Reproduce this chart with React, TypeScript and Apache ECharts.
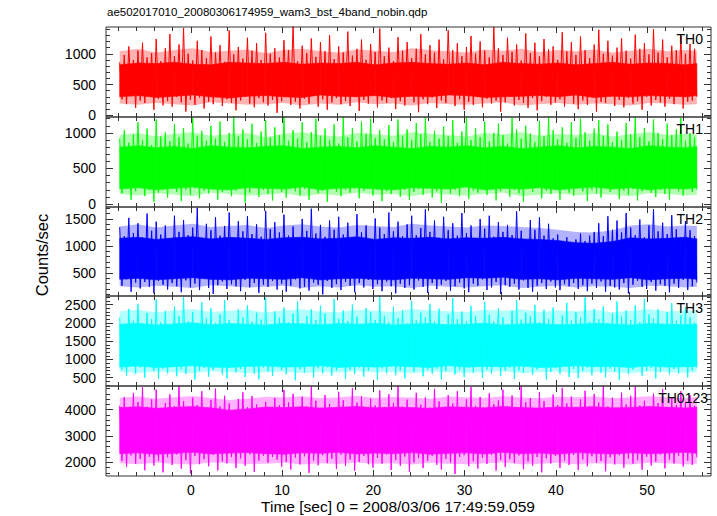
import React, { useEffect, useRef } from "react";
import * as echarts from "echarts";

const TITLE = "ae502017010_20080306174959_wam3_bst_4band_nobin.qdp";
const X_NAME = "Time [sec] 0 = 2008/03/06 17:49:59.059";
const Y_NAME = "Counts/sec";
const BAND_NAMES = ["TH0", "TH1", "TH2", "TH3", "TH0123"];
const COLORS = ["#ff0000", "#00ff00", "#0000ff", "#00ffff", "#ff00ff"];

const T_START = -7.8;
const BIN_SEC = 0.25;
const ENV_STEP_SEC = 2;
const X_RANGE = [-9.3, 57.0];
const X_MAJOR = [0, 10, 20, 30, 40, 50];
const X_MINOR = [-8, -6, -4, -2, 2, 4, 6, 8, 12, 14, 16, 18, 22, 24, 26, 28, 32, 34, 36, 38, 42, 44, 46, 48, 52, 54, 56];

const Y_RANGES = [[-28, 1435], [-42, 1224], [70, 1722], [274, 2734], [1480, 4900]];
const Y_MAJOR = [[0, 500, 1000], [0, 500, 1000], [500, 1000, 1500], [500, 1000, 1500, 2000, 2500], [2000, 3000, 4000]];
const Y_MINOR_STEP = [100, 100, 100, 100, 200];

// light-curve samples (alternating local highs / lows, counts/sec)
const TH0 = [
  860, 260, 980, 180, 1120, 310, 900, 120, 1050, 240,
  1180, 200, 940, 330, 1010, 90, 1240, 270, 880, 160,
  1090, 230, 1320, 140, 960, 300, 1150, 210, 1420, 60,
  1000, 250, 890, 170, 1210, 290, 1060, 110, 930, 220,
  1280, 180, 1020, 340, 1140, 150, 870, 260, 1380, 200,
  990, 80, 1110, 240, 920, 310, 1260, 190, 1050, 130,
  1170, 280, 900, 210, 1340, 160, 1000, 250, 1090, 40,
  940, 230, 1220, 300, 1060, 170, 1470, 220, 880, 110,
  1130, 270, 1010, 190, 1250, 320, 950, 140, 1190, 260,
  1040, 90, 1300, 210, 910, 280, 1120, 180, 1020, 230,
  1360, 150, 970, 300, 1080, 70, 1230, 250, 900, 190,
  1160, 320, 1030, 130, 1410, 240, 960, 200, 1100, 280,
  880, 100, 1270, 230, 1050, 160, 1190, 310, 930, 210,
  1080, 50, 1320, 260, 990, 180, 1140, 290, 1020, 120,
  1230, 240, 910, 200, 1380, 330, 1060, 150, 1170, 260,
  960, 90, 1110, 220, 1290, 170, 1000, 300, 1200, 130,
  1050, 270, 940, 190, 1440, 240, 1090, 60, 980, 210,
  1260, 310, 1030, 160, 1150, 250, 890, 200, 1330, 120,
  1010, 280, 1180, 80, 960, 230, 1240, 300, 1070, 170,
  1120, 210, 900, 260, 1350, 140, 1040, 320, 1190, 190,
  980, 100, 1280, 240, 1060, 170, 930, 290, 1150, 60,
  1390, 220, 1000, 200, 1210, 310, 970, 150, 1100, 250,
  1250, 130, 1050, 280, 920, 190, 1310, 230, 1080, 90,
  1170, 300, 990, 160, 1400, 250, 1020, 210, 1230, 140,
  940, 270, 1130, 180, 1060, 330, 1290, 110, 1000, 220,
  1160, 240, 1080, 300,
];

const TH1 = [
  920, 150, 1040, 210, 860, 60, 980, 180, 1150, 240,
  900, 110, 1060, 200, 830, 30, 1190, 160, 950, 230,
  1010, 90, 880, 250, 1120, 170, 940, 40, 1070, 200,
  850, 130, 1210, 220, 960, 80, 1030, 190, 890, 150,
  1100, 250, 920, 60, 1160, 170, 870, 210, 1000, 110,
  1230, 190, 950, 240, 1050, 20, 910, 160, 1130, 230,
  860, 100, 1020, 200, 1180, 140, 940, 50, 1080, 220,
  970, 170, 1240, 90, 890, 250, 1040, 180, 920, 120,
  1150, 210, 870, 60, 1010, 230, 1200, 150, 960, 190,
  1060, 30, 900, 240, 1120, 170, 850, 110, 1230, 200,
  940, 160, 1070, 220, 880, 80, 1160, 190, 990, 250,
  1200, 120, 930, 210, 1040, 40, 910, 180, 1110, 140,
  870, 230, 1190, 100, 960, 200, 1050, 60, 900, 170,
  1140, 210, 980, 130, 1220, 240, 870, 90, 1030, 180,
  920, 20, 1090, 220, 950, 150, 1180, 200, 860, 110,
  1020, 250, 1240, 70, 900, 190, 1070, 160, 940, 230,
  1160, 130, 880, 210, 1000, 50, 1130, 180, 970, 240,
  850, 100, 1210, 200, 1050, 150, 920, 30, 1100, 220,
  990, 170, 870, 240, 1170, 80, 950, 190, 1230, 140,
  1040, 210, 910, 60, 1080, 230, 860, 160, 1150, 120,
  930, 250, 1200, 180, 1010, 40, 890, 200, 1060, 150,
  1180, 90, 960, 220, 1120, 170, 870, 240, 1020, 70,
  900, 190, 1140, 130, 980, 210, 1230, 50, 940, 180,
  1070, 230, 880, 160, 1190, 100, 1000, 200, 910, 140,
  1130, 60, 970, 240, 1050, 180, 1210, 120, 890, 210,
  1000, 170, 940, 200,
];

const TH2 = [
  1350, 260, 1180, 380, 1520, 150, 1240, 320, 1420, 210,
  1160, 330, 1600, 240, 1280, 120, 1450, 350, 1210, 280,
  1380, 190, 1130, 310, 1560, 250, 1260, 140, 1480, 360,
  1200, 230, 1340, 300, 1710, 180, 1150, 390, 1410, 220,
  1290, 110, 1530, 270, 1190, 340, 1370, 200, 1620, 290,
  1140, 250, 1460, 160, 1270, 370, 1550, 230, 1220, 310,
  1400, 130, 1170, 280, 1650, 240, 1310, 350, 1440, 190,
  1250, 300, 1580, 150, 1190, 260, 1360, 380, 1120, 210,
  1500, 240, 1280, 170, 1690, 320, 1230, 280, 1390, 100,
  1170, 350, 1470, 220, 1300, 290, 1540, 180, 1210, 330,
  1430, 260, 1160, 140, 1590, 310, 1250, 230, 1380, 370,
  1130, 200, 1510, 290, 1340, 160, 1220, 340, 1620, 250,
  1270, 120, 1450, 300, 1180, 220, 1400, 270, 1560, 190,
  1200, 360, 1330, 240, 1680, 130, 1260, 310, 1470, 200,
  1150, 280, 1540, 350, 1290, 170, 1420, 250, 1190, 320,
  1610, 210, 1240, 140, 1380, 300, 1130, 260, 1500, 380,
  1320, 180, 1560, 230, 1170, 330, 1440, 110, 1260, 270,
  1390, 240, 1200, 300, 1640, 190, 1280, 360, 1110, 220,
  1480, 150, 1300, 260, 1530, 310, 1190, 200, 1410, 340,
  1140, 230, 1210, 180, 1080, 290, 1160, 250, 1050, 310,
  1120, 200, 1230, 270, 1090, 160, 1190, 300, 1260, 220,
  1420, 340, 1180, 150, 1550, 260, 1300, 230, 1470, 190,
  1250, 310, 1610, 120, 1340, 280, 1200, 350, 1490, 240,
  1160, 200, 1380, 330, 1680, 170, 1270, 290, 1430, 260,
  1220, 140, 1570, 300, 1310, 220, 1150, 370, 1460, 180,
  1290, 250, 1180, 320,
];

const TH3 = [
  2150, 720, 1980, 560, 2380, 840, 2060, 610, 2520, 780,
  1950, 500, 2270, 810, 2100, 680, 2640, 470, 2010, 750,
  2330, 620, 1920, 860, 2450, 540, 2180, 730, 2710, 600,
  2040, 820, 2290, 450, 1990, 690, 2560, 770, 2120, 530,
  2400, 710, 2000, 880, 2230, 590, 2620, 480, 2070, 800,
  1940, 650, 2360, 740, 2150, 520, 2480, 830, 2030, 610,
  2280, 460, 2090, 780, 2690, 670, 1970, 550, 2310, 850,
  2140, 700, 2420, 590, 2020, 810, 2250, 430, 2580, 730,
  1990, 640, 2190, 870, 2370, 510, 2080, 760, 2470, 620,
  2260, 790, 1930, 560, 2650, 690, 2110, 840, 2340, 470,
  2050, 720, 2500, 600, 2170, 780, 1960, 530, 2410, 690,
  2300, 860, 2080, 440, 2730, 750, 2190, 620, 2010, 810,
  2440, 570, 2130, 700, 2350, 480, 1980, 790, 2600, 660,
  2070, 830, 2280, 540, 2160, 720, 2520, 610, 2040, 750,
  2390, 460, 1950, 680, 2240, 850, 2680, 590, 2100, 710,
  2310, 520, 2050, 770, 2460, 640, 2180, 820, 1990, 500,
  2570, 730, 2220, 610, 2030, 860, 2400, 550, 2150, 690,
  1970, 780, 2330, 470, 2620, 700, 2090, 630, 2280, 840,
  2180, 580, 2490, 720, 2010, 810, 2360, 450, 2110, 660,
  2420, 760, 1960, 600, 2200, 830, 2550, 520, 2060, 740,
  2290, 490, 2140, 690, 2700, 780, 2030, 570, 2380, 820,
  2100, 630, 2450, 510, 1990, 750, 2260, 670, 2590, 440,
  2170, 800, 2340, 600, 2080, 720, 2480, 840, 2020, 560,
  2660, 690, 2230, 770, 2120, 480, 2370, 650, 1980, 810,
  2300, 590, 2540, 740, 2060, 620, 2210, 850, 2430, 510,
  2150, 700, 2010, 780,
];

const TH0123 = [
  4150, 2050, 4480, 1820, 4020, 2260, 4630, 1950, 4290, 2130,
  4850, 1700, 4110, 2210, 4390, 1880, 4760, 2050, 4000, 1620,
  4250, 2190, 4580, 1900, 4140, 2300, 4920, 1760, 4330, 2080,
  4050, 1580, 4460, 2240, 4180, 1930, 4700, 2120, 3980, 1850,
  4370, 2280, 4800, 1690, 4120, 2040, 4530, 1960, 4240, 2200,
  3950, 1780, 4410, 2150, 4660, 1870, 4090, 2310, 4520, 1640,
  4200, 2060, 3900, 2250, 4300, 1990, 4010, 2200, 4450, 2100,
  4170, 1840, 4750, 2020, 4280, 1730, 4600, 2180, 4060, 1920,
  4490, 2230, 4130, 1600, 4890, 2070, 4340, 1890, 4070, 2270,
  4560, 1970, 4220, 2140, 4010, 1750, 4680, 2290, 4360, 1860,
  4100, 2110, 4820, 1680, 4270, 2010, 4510, 2240, 3990, 1930,
  4420, 1800, 4160, 2170, 4730, 1950, 4040, 2300, 4590, 1710,
  4260, 2080, 4900, 1870, 4110, 2220, 4380, 1640, 4030, 2000,
  4640, 2160, 4190, 1780, 4470, 2060, 4080, 2250, 4790, 1910,
  4310, 1730, 4020, 2130, 4550, 1990, 4230, 1560, 4700, 2200,
  4090, 2270, 4400, 1850, 4860, 2040, 4150, 1760, 4480, 2180,
  4000, 1940, 4620, 2290, 4210, 1690, 4350, 2090, 4760, 1820,
  4130, 2120, 4540, 1980, 4070, 2260, 4910, 1740, 4280, 2030,
  4440, 1870, 4050, 2200, 4670, 1620, 4320, 2150, 4010, 1960,
  4580, 2240, 4180, 1790, 4830, 2070, 4240, 1900, 4500, 2280,
  4060, 1710, 4390, 2110, 4720, 1850, 4140, 2230, 4600, 1990,
  4270, 2050, 4940, 1660, 4120, 2190, 4460, 1920, 4030, 2270,
  4650, 1800, 4200, 2140, 4530, 1950, 4880, 2080, 4160, 1720,
  4340, 2210, 4080, 1880, 4610, 2020, 4250, 2300, 4790, 1770,
  4100, 2100, 4470, 1960, 4180, 2250, 4700, 1840, 4300, 2060,
  4560, 1900, 4150, 2190,
];

// dense core of each band (lower / upper edge every 2 s)
const TH0_CORE_LO = [300, 320, 290, 310, 330, 300, 280, 310, 320, 300, 290, 330, 310, 300, 320, 290, 310, 300, 330, 320, 290, 300, 310, 320, 300, 330, 290, 310, 300, 320, 310, 300, 320];
const TH0_CORE_HI = [820, 850, 840, 860, 830, 820, 860, 850, 840, 860, 830, 850, 840, 860, 820, 850, 860, 840, 830, 850, 820, 860, 840, 830, 850, 820, 840, 860, 830, 850, 840, 820, 840];
const TH1_CORE_LO = [210, 230, 200, 220, 240, 210, 200, 230, 220, 210, 240, 200, 220, 230, 210, 200, 230, 220, 210, 240, 200, 220, 210, 230, 200, 220, 240, 210, 230, 200, 220, 210, 230];
const TH1_CORE_HI = [800, 820, 790, 810, 780, 820, 800, 790, 810, 820, 780, 800, 810, 790, 820, 800, 780, 810, 800, 820, 790, 810, 780, 800, 820, 790, 810, 800, 780, 820, 800, 790, 810];
const TH2_CORE_LO = [380, 400, 370, 390, 410, 380, 370, 400, 390, 380, 410, 370, 390, 400, 380, 370, 400, 390, 380, 410, 400, 420, 380, 390, 370, 400, 390, 380, 410, 370, 390, 400, 380];
const TH2_CORE_HI = [1140, 1160, 1120, 1150, 1170, 1130, 1160, 1140, 1120, 1150, 1160, 1130, 1140, 1170, 1120, 1150, 1140, 1160, 1130, 1150, 1140, 1160, 1130, 1120, 1100, 1060, 1050, 1080, 1150, 1130, 1140, 1160, 1130];
const TH3_CORE_LO = [790, 820, 780, 800, 830, 790, 780, 810, 820, 790, 800, 830, 780, 810, 790, 820, 800, 780, 830, 790, 810, 800, 820, 780, 790, 830, 800, 810, 780, 820, 790, 800, 810];
const TH3_CORE_HI = [1960, 1990, 1940, 1970, 2000, 1950, 1980, 1960, 1940, 1990, 1970, 1950, 1980, 1960, 1990, 1940, 1970, 1980, 1950, 1960, 1990, 1940, 1970, 1980, 1950, 1960, 1990, 1970, 1940, 1980, 1960, 1950, 1970];
const TH0123_CORE_LO = [2330, 2360, 2310, 2340, 2380, 2320, 2350, 2370, 2330, 2310, 2360, 2340, 2380, 2320, 2350, 2330, 2370, 2310, 2340, 2360, 2320, 2380, 2330, 2350, 2310, 2370, 2340, 2320, 2360, 2330, 2350, 2380, 2340];
const TH0123_CORE_HI = [4080, 4110, 4050, 4090, 4120, 4070, 3980, 4030, 4100, 4080, 4110, 4060, 4090, 4120, 4070, 4100, 4080, 4050, 4110, 4090, 4070, 4120, 4080, 4060, 4100, 4090, 4110, 4070, 4080, 4120, 4090, 4060, 4100];

// partly-filled zone of each band (where spikes crowd), every 2 s
const TH0_HALO_LO = [190, 170, 200, 180, 160, 210, 190, 170, 180, 200, 160, 190, 170, 210, 180, 190, 160, 200, 180, 170, 190, 210, 160, 180, 200, 170, 190, 180, 160, 200, 190, 170, 180];
const TH0_HALO_HI = [1040, 1080, 1020, 1060, 1090, 1030, 1050, 1070, 1010, 1060, 1080, 1040, 1020, 1070, 1050, 1030, 1090, 1060, 1040, 1020, 1070, 1050, 1080, 1030, 1060, 1040, 1070, 1020, 1050, 1080, 1040, 1060, 1050];
const TH1_HALO_LO = [140, 120, 150, 130, 110, 160, 140, 120, 130, 150, 110, 140, 120, 160, 130, 140, 110, 150, 130, 120, 140, 160, 110, 130, 150, 120, 140, 130, 110, 150, 140, 120, 130];
const TH1_HALO_HI = [970, 1000, 950, 990, 1010, 960, 980, 1000, 940, 990, 1010, 970, 950, 1000, 980, 960, 1010, 990, 970, 950, 1000, 980, 1010, 960, 990, 970, 1000, 950, 980, 1010, 970, 990, 980];
const TH2_HALO_LO = [250, 230, 260, 240, 220, 270, 250, 230, 240, 260, 220, 250, 230, 270, 240, 250, 220, 260, 240, 230, 250, 270, 220, 240, 260, 230, 250, 240, 220, 260, 250, 230, 240];
const TH2_HALO_HI = [1360, 1400, 1340, 1380, 1410, 1350, 1370, 1390, 1330, 1380, 1400, 1360, 1340, 1390, 1370, 1350, 1410, 1380, 1360, 1340, 1380, 1370, 1350, 1330, 1300, 1260, 1250, 1290, 1380, 1400, 1360, 1380, 1370];
const TH3_HALO_LO = [660, 630, 670, 650, 620, 680, 660, 630, 650, 670, 620, 660, 640, 680, 650, 660, 620, 670, 650, 630, 660, 680, 620, 650, 670, 630, 660, 650, 620, 670, 660, 630, 650];
const TH3_HALO_HI = [2320, 2360, 2290, 2340, 2380, 2300, 2330, 2360, 2280, 2340, 2370, 2310, 2290, 2360, 2330, 2300, 2380, 2340, 2320, 2290, 2360, 2330, 2370, 2300, 2340, 2320, 2360, 2290, 2330, 2370, 2310, 2340, 2330];
const TH0123_HALO_LO = [1960, 1930, 1980, 1950, 1920, 1990, 1960, 1940, 1950, 1980, 1920, 1960, 1940, 1990, 1950, 1960, 1920, 1980, 1950, 1930, 1960, 1990, 1920, 1950, 1980, 1930, 1960, 1950, 1920, 1980, 1960, 1930, 1950];
const TH0123_HALO_HI = [4450, 4500, 4420, 4470, 4520, 4440, 4370, 4420, 4490, 4460, 4510, 4430, 4470, 4520, 4440, 4480, 4460, 4420, 4500, 4470, 4440, 4510, 4460, 4430, 4490, 4470, 4500, 4440, 4460, 4510, 4470, 4430, 4480];

const SERIES_VALUES = [TH0, TH1, TH2, TH3, TH0123];
const CORE_LO = [TH0_CORE_LO, TH1_CORE_LO, TH2_CORE_LO, TH3_CORE_LO, TH0123_CORE_LO];
const CORE_HI = [TH0_CORE_HI, TH1_CORE_HI, TH2_CORE_HI, TH3_CORE_HI, TH0123_CORE_HI];
const HALO_LO = [TH0_HALO_LO, TH1_HALO_LO, TH2_HALO_LO, TH3_HALO_LO, TH0123_HALO_LO];
const HALO_HI = [TH0_HALO_HI, TH1_HALO_HI, TH2_HALO_HI, TH3_HALO_HI, TH0123_HALO_HI];

// layout
const GRID_TOPS = [27, 117, 207, 296, 386];
const GRID_BOTTOM = 476;
const GRID_LEFT = 106;
const GRID_RIGHT = 711;
const FONT = "'Liberation Sans', Arial, Helvetica, sans-serif";
const AXIS_COLOR = "#333";

function minorTicks(range: number[], step: number, major: number[]) {
  const out: number[] = [];
  const start = Math.ceil(range[0] / step) * step;
  for (let v = start; v <= range[1]; v += step) {
    if (major.indexOf(v) < 0) out.push(v);
  }
  return out;
}

function bandSeries(i: number, name: string, lo: number[], hi: number[], tEnd: number, opacity: number, z: number) {
  const color = COLORS[i];
  const data = lo.map((v, k) => [Math.min(T_START + k * ENV_STEP_SEC, tEnd), v, hi[k]]);
  return {
    type: "custom",
    name,
    xAxisIndex: i * 4,
    yAxisIndex: i * 4,
    data,
    encode: { x: 0, y: [1, 2] },
    silent: true,
    clip: true,
    z,
    renderItem: (params: any, api: any) => {
      const k = params.dataIndex;
      if (k >= data.length - 1) return null;
      const a = data[k];
      const b = data[k + 1];
      const pts = [
        api.coord([a[0], a[1]]),
        api.coord([b[0], b[1]]),
        api.coord([b[0], b[2]]),
        api.coord([a[0], a[2]]),
      ];
      return {
        type: "polygon",
        shape: { points: pts },
        style: { fill: color, opacity, stroke: opacity >= 1 ? color : "none", lineWidth: 0.6 },
      };
    },
  };
}

export default function App() {
  const ref = useRef<HTMLDivElement>(null);
  useEffect(() => {
    if (!ref.current) return;
    const chart = echarts.init(ref.current, undefined, { renderer: "svg" });
    const grids: any[] = [];
    const xAxes: any[] = [];
    const yAxes: any[] = [];
    const series: any[] = [];
    const graphics: any[] = [];
    const n = SERIES_VALUES.length;
    for (let i = 0; i < n; i++) {
      const top = GRID_TOPS[i];
      const bottom = i < n - 1 ? GRID_TOPS[i + 1] : GRID_BOTTOM;
      grids.push({
        left: GRID_LEFT,
        top,
        width: GRID_RIGHT - GRID_LEFT,
        height: bottom - top,
        show: true,
        borderColor: AXIS_COLOR,
        borderWidth: 1,
        backgroundColor: "transparent",
        z: 5,
      });
      const isLast = i === n - 1;
      const xBase = {
        gridIndex: i,
        type: "value",
        min: X_RANGE[0],
        max: X_RANGE[1],
        axisLine: { show: false, onZero: false },
        splitLine: { show: false },
        z: 10,
      };
      ["bottom", "top"].forEach((pos) => {
        xAxes.push({
          ...xBase,
          position: pos,
          axisTick: { show: true, inside: true, length: 6, customValues: X_MAJOR, lineStyle: { color: AXIS_COLOR } },
          axisLabel: {
            show: isLast && pos === "bottom",
            customValues: X_MAJOR,
            formatter: (v: number) => String(v),
            margin: 7,
            color: "#000",
            fontSize: 14,
            fontFamily: FONT,
          },
        });
        xAxes.push({
          ...xBase,
          position: pos,
          axisTick: { show: true, inside: true, length: 4, customValues: X_MINOR, lineStyle: { color: AXIS_COLOR } },
          axisLabel: { show: false },
        });
      });
      const yr = Y_RANGES[i];
      const ymin = minorTicks(yr, Y_MINOR_STEP[i], Y_MAJOR[i]);
      const yBase = {
        gridIndex: i,
        type: "value",
        min: yr[0],
        max: yr[1],
        axisLine: { show: false, onZero: false },
        splitLine: { show: false },
        z: 10,
      };
      ["left", "right"].forEach((pos) => {
        yAxes.push({
          ...yBase,
          position: pos,
          axisTick: { show: true, inside: true, length: 7, customValues: Y_MAJOR[i], lineStyle: { color: AXIS_COLOR } },
          axisLabel: {
            show: pos === "left",
            customValues: Y_MAJOR[i],
            formatter: (v: number) => String(v),
            margin: 10,
            color: "#000",
            fontSize: 14,
            fontFamily: FONT,
          },
        });
        yAxes.push({
          ...yBase,
          position: pos,
          axisTick: { show: true, inside: true, length: 4, customValues: ymin, lineStyle: { color: AXIS_COLOR } },
          axisLabel: { show: false },
        });
      });
      const vals = SERIES_VALUES[i];
      const tEnd = T_START + (vals.length - 1) * BIN_SEC;
      series.push(bandSeries(i, BAND_NAMES[i] + " spread", HALO_LO[i], HALO_HI[i], tEnd, 0.3, 1));
      series.push(bandSeries(i, BAND_NAMES[i] + " core", CORE_LO[i], CORE_HI[i], tEnd, 1, 2));
      series.push({
        type: "line",
        name: BAND_NAMES[i],
        xAxisIndex: i * 4,
        yAxisIndex: i * 4,
        data: vals.map((v, k) => [T_START + k * BIN_SEC, v]),
        showSymbol: false,
        symbol: "none",
        clip: true,
        lineStyle: { color: COLORS[i], width: 1 },
        itemStyle: { color: COLORS[i] },
        z: 3,
      });
      graphics.push({
        type: "text",
        right: isLast ? 9 : 14,
        top: top + 5,
        z: 100,
        style: { text: BAND_NAMES[i], fill: "#000", font: `14px ${FONT}` },
      });
    }
    graphics.push({
      type: "text",
      left: 107,
      top: 6,
      style: { text: TITLE, fill: "#000", font: `11.5px ${FONT}` },
    });
    graphics.push({
      type: "text",
      x: 42,
      y: 255,
      rotation: Math.PI / 2,
      style: { text: Y_NAME, fill: "#000", font: `16.5px ${FONT}`, align: "center", verticalAlign: "middle" },
    });
    graphics.push({
      type: "text",
      x: 398,
      y: 506,
      style: { text: X_NAME, fill: "#000", font: `15.5px ${FONT}`, align: "center", verticalAlign: "middle" },
    });
    chart.setOption({
      animation: false,
      backgroundColor: "#fff",
      grid: grids,
      xAxis: xAxes,
      yAxis: yAxes,
      series,
      graphic: graphics,
    });
    return () => chart.dispose();
  }, []);
  return <div ref={ref} style={{ position: "fixed", left: 0, top: 0, width: 717, height: 516 }} />;
}
